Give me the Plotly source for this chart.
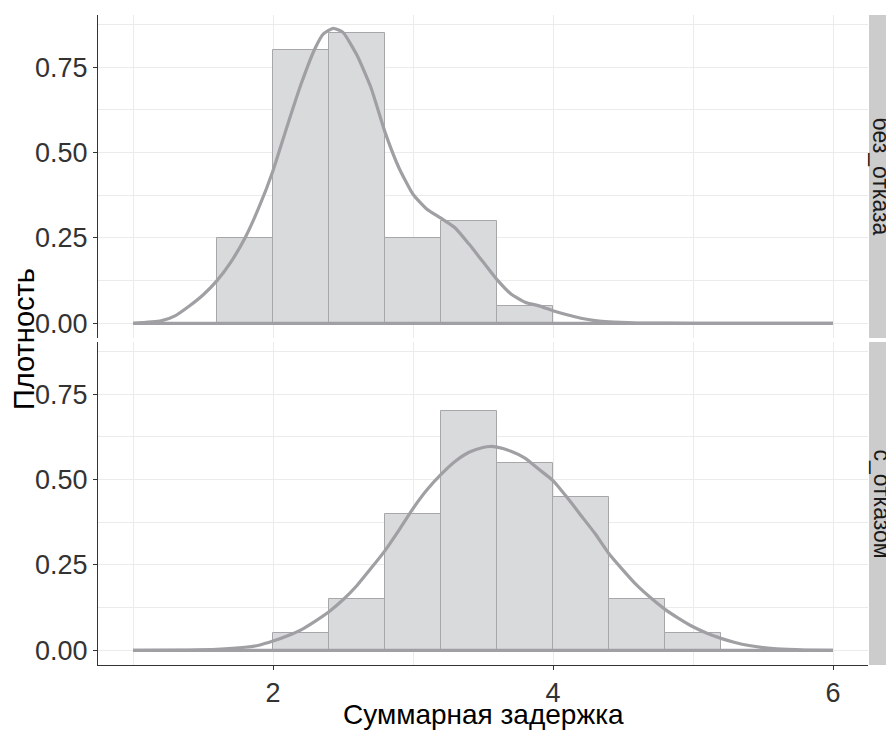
import plotly.graph_objects as go
from plotly.subplots import make_subplots

# ---- data ----
bin_width = 0.4
top_bin_left = [1.6, 2.0, 2.4, 2.8, 3.2, 3.6]
top_hist = [0.25, 0.80, 0.85, 0.25, 0.30, 0.05]

bot_bin_left = [2.0, 2.4, 2.8, 3.2, 3.6, 4.0, 4.4, 4.8]
bot_hist = [0.05, 0.15, 0.40, 0.70, 0.55, 0.45, 0.15, 0.05]

top_dens_x = [1.0, 1.2, 1.3, 1.4, 1.5, 1.6, 1.7, 1.8, 1.9, 2.0, 2.1, 2.2, 2.3, 2.36, 2.43,
              2.5, 2.6, 2.7, 2.8, 2.9, 3.0, 3.1, 3.2, 3.3, 3.4, 3.5, 3.6, 3.7, 3.8, 3.9,
              4.0, 4.1, 4.2, 4.3, 4.4, 4.6, 5.0, 6.0]
top_dens_y = [0.0, 0.007, 0.022, 0.05, 0.083, 0.125, 0.18, 0.25, 0.34, 0.447, 0.576, 0.70,
              0.805, 0.848, 0.864, 0.852, 0.785, 0.69, 0.56, 0.455, 0.378, 0.334, 0.308,
              0.28, 0.232, 0.18, 0.128, 0.086, 0.062, 0.051, 0.037, 0.025, 0.015, 0.008,
              0.004, 0.001, 0.0, 0.0]

bot_dens_x = [1.0, 1.4, 1.6, 1.8, 1.9, 2.0, 2.1, 2.2, 2.3, 2.4, 2.5, 2.6, 2.7, 2.8, 2.9,
              3.0, 3.1, 3.2, 3.3, 3.4, 3.5, 3.55, 3.6, 3.7, 3.8, 3.9, 4.0, 4.1, 4.2, 4.3,
              4.4, 4.5, 4.6, 4.7, 4.8, 4.9, 5.0, 5.1, 5.2, 5.3, 5.4, 5.5, 5.6, 5.8, 6.0]
bot_dens_y = [0.0, 0.001, 0.003, 0.009, 0.015, 0.027, 0.042, 0.06, 0.085, 0.113, 0.148,
              0.19, 0.24, 0.292, 0.352, 0.415, 0.47, 0.515, 0.553, 0.58, 0.594, 0.597,
              0.595, 0.583, 0.563, 0.53, 0.497, 0.448, 0.395, 0.342, 0.283, 0.235, 0.19,
              0.153, 0.12, 0.093, 0.069, 0.05, 0.035, 0.023, 0.014, 0.008, 0.004, 0.001, 0.0]

facet_labels = ["без_отказа", "с_отказом"]
x_ticks = [2, 4, 6]
y_ticks = [0.0, 0.25, 0.50, 0.75]
y_tick_text = ["0.00", "0.25", "0.50", "0.75"]
x_title = "Суммарная задержка"
y_title = "Плотность"

# ---- figure ----
W, H = 886, 733
ml, mr, mt, mb = 98, 18, 15, 68
fig = make_subplots(rows=2, cols=1, shared_xaxes=True, vertical_spacing=4 / (H - mt - mb))

BAR_FILL = "#D9DADC"
BAR_EDGE = "#A7A7A9"
LINE_COL = "#A0A0A4"
FONT = "Liberation Sans, Arial, sans-serif"

panels = [(top_bin_left, top_hist, top_dens_x, top_dens_y),
          (bot_bin_left, bot_hist, bot_dens_x, bot_dens_y)]
for i, (bl, bh, dx, dy) in enumerate(panels, start=1):
    fig.add_trace(go.Bar(x=bl, y=bh, width=bin_width, offset=0,
                         marker=dict(color=BAR_FILL, line=dict(color=BAR_EDGE, width=1)),
                         showlegend=False, hoverinfo="skip"), row=i, col=1)
    # density outline (closed along the baseline)
    fig.add_trace(go.Scatter(x=dx, y=dy, mode="lines",
                             line=dict(color=LINE_COL, width=3.2, shape="spline", smoothing=0.5),
                             showlegend=False, hoverinfo="skip"), row=i, col=1)
    fig.add_trace(go.Scatter(x=[dx[-1], dx[0]], y=[0, 0], mode="lines",
                             line=dict(color=LINE_COL, width=3.2),
                             showlegend=False, hoverinfo="skip"), row=i, col=1)

grid_col = "#EBEBEB"
axis_font = dict(family=FONT, size=27, color="#333333")
for i in (1, 2):
    fig.update_xaxes(range=[0.75, 6.25], tickvals=x_ticks, showgrid=True, gridcolor=grid_col,
                     gridwidth=1, zeroline=False, automargin=False,
                     minor=dict(dtick=1, tick0=0, showgrid=True, gridcolor=grid_col, gridwidth=1),
                     ticks="outside" if i == 2 else "", ticklen=4, tickcolor="#333333",
                     showline=(i == 2), linecolor="#333333", linewidth=1,
                     showticklabels=(i == 2), tickfont=axis_font, row=i, col=1)
    fig.update_yaxes(range=[-0.043, 0.903], tickvals=y_ticks, ticktext=y_tick_text,
                     showgrid=True, gridcolor=grid_col, gridwidth=1, zeroline=False,
                     automargin=False,
                     minor=dict(dtick=0.125, tick0=0, showgrid=True, gridcolor=grid_col, gridwidth=1),
                     ticks="outside", ticklen=4, tickcolor="#333333",
                     showline=True, linecolor="#333333", linewidth=1,
                     tickfont=axis_font, row=i, col=1)

plot_w = W - ml - mr
plot_h = H - mt - mb
def px_x(page_x):
    return (page_x - ml) / plot_w
def px_y(page_y):
    return 1 - (page_y - mt) / plot_h

# facet strips
doms = [fig.layout.yaxis.domain, fig.layout.yaxis2.domain]
for lab, dom in zip(facet_labels, doms):
    fig.add_shape(type="rect", xref="paper", yref="paper", x0=px_x(869), x1=px_x(900),
                  y0=dom[0], y1=dom[1], fillcolor="#CCCCCC", line=dict(width=0), layer="above")
    fig.add_annotation(text=lab, xref="paper", yref="paper",
                       x=px_x(881), y=(dom[0] + dom[1]) / 2,
                       xanchor="center", yanchor="middle", textangle=90, showarrow=False,
                       font=dict(family=FONT, size=23, color="#1A1A1A"))

fig.add_annotation(text=x_title, xref="paper", yref="paper", x=0.5, y=px_y(714),
                   xanchor="center", yanchor="middle", showarrow=False,
                   font=dict(family=FONT, size=28, color="#000000"))
fig.add_annotation(text=y_title, xref="paper", yref="paper", x=px_x(24), y=px_y(339),
                   xanchor="center", yanchor="middle", textangle=-90, showarrow=False,
                   font=dict(family=FONT, size=29, color="#000000"))

fig.update_layout(width=W, height=H, margin=dict(l=ml, r=mr, t=mt, b=mb, autoexpand=False),
                  plot_bgcolor="white", paper_bgcolor="white", bargap=0, showlegend=False)

fig.write_html("out.html", config={"displayModeBar": False},
               post_script="document.body.style.margin='0';document.body.style.overflow='hidden';")
